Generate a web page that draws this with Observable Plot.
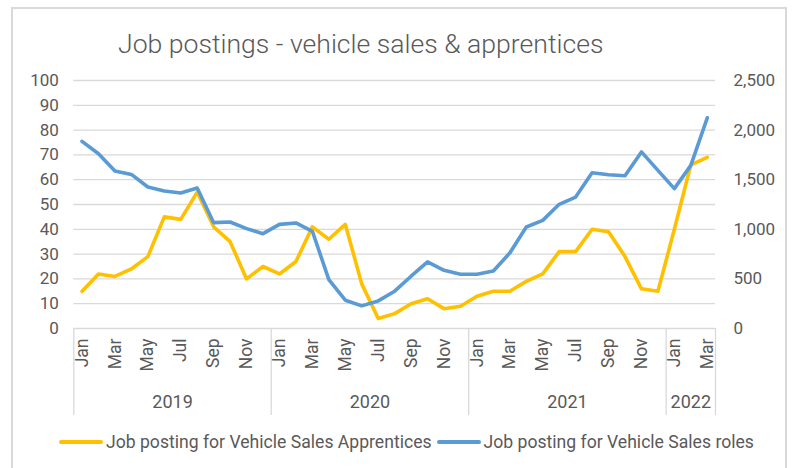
<!DOCTYPE html>
<html>
<head>
<meta charset="utf-8">
<script src="https://cdn.jsdelivr.net/npm/d3@7"></script>
<script src="https://cdn.jsdelivr.net/npm/@observablehq/plot@0.6"></script>
<style>
  html, body { margin: 0; padding: 0; background: #fff; }
  #wrap { position: relative; width: 794px; height: 468px; overflow: hidden; font-family: Roboto, "Open Sans", sans-serif; }
  #frame { position: absolute; left: 11px; top: 7px; width: 776px; height: 480px; border: 2px solid #d9d9d9; box-sizing: border-box; }
  #title { position: absolute; left: 118px; top: 28px; font-size: 26.6px; font-weight: 300; color: #595959; white-space: nowrap; }
  #chart { position: absolute; left: 0; top: 0; }
  #legend { position: absolute; left: 59px; top: 432px; display: flex; align-items: center; font-size: 17.6px; color: #595959; white-space: nowrap; }
  .sw { display: inline-block; width: 44px; height: 4px; margin-right: 3px; border-radius: 2px; }
  .item { display: flex; align-items: center; margin-right: 5px; }
</style>
</head>
<body>
<div id="wrap">
  <div id="frame"></div>
  <div id="title"></div>
  <div id="chart"></div>
  <div id="legend"></div>
</div>
<script>
const titleText = "Job postings - vehicle sales & apprentices";
const years = ["2019", "2020", "2021", "2022"];
const monthNames = ["Jan","Feb","Mar","Apr","May","Jun","Jul","Aug","Sep","Oct","Nov","Dec"];
const monthsPerYear = [12, 12, 12, 3];
const seriesNames = ["Job posting for Vehicle Sales Apprentices", "Job posting for Vehicle Sales roles"];
const seriesColors = ["#FFC000", "#5B9BD5"];
// Apprentices (left axis)
const apprentices = [15, 22, 21, 24, 29, 45, 44, 55, 41, 35, 20, 25,
                     22, 27, 41, 36, 42, 18, 4, 6, 10, 12, 8, 9,
                     13, 15, 15, 19, 22, 31, 31, 40, 39, 29, 16, 15,
                     40, 66, 69];
// Vehicle sales roles (right axis)
const roles = [1886, 1762, 1587, 1553, 1426, 1386, 1366, 1416, 1067, 1074, 1007, 956,
               1050, 1064, 980, 493, 285, 228, 278, 376, 527, 671, 587, 547,
               547, 580, 762, 1023, 1090, 1252, 1325, 1570, 1550, 1540, 1780, 1594,
               1410, 1644, 2124];
const leftTicks = [0, 10, 20, 30, 40, 50, 60, 70, 80, 90, 100];
const rightTicks = [0, 500, 1000, 1500, 2000, 2500];

const leftMax = leftTicks[leftTicks.length - 1];
const rightMax = rightTicks[rightTicks.length - 1];
const ratio = rightMax / leftMax;

// build rows
const rows = [];
years.forEach((yr, yi) => {
  for (let m = 0; m < monthsPerYear[yi]; m++) rows.push({month: monthNames[m], year: yr});
});
rows.forEach((r, i) => { r.i = i; r.app = apprentices[i]; r.roles = roles[i]; });

// year separators and centers
const seps = [];
const centers = [];
let start = 0;
years.forEach((yr, yi) => {
  seps.push(start - 0.5);
  centers.push({x: start + (monthsPerYear[yi] - 1) / 2, label: yr});
  start += monthsPerYear[yi];
});
seps.push(start - 0.5);

const grid = "#d9d9d9";
const txt = "#595959";

const plot = Plot.plot({
  width: 794,
  height: 468,
  marginTop: 80,
  marginBottom: 140,
  marginLeft: 73.3,
  marginRight: 79,
  style: {fontFamily: "Roboto, 'Open Sans', sans-serif", color: txt, background: "transparent"},
  x: {type: "linear", domain: [-0.5, start - 0.5]},
  y: {domain: [0, leftMax]},
  marks: [
    Plot.gridY({ticks: leftTicks, stroke: grid, strokeOpacity: 1, strokeWidth: 1.3}),
    Plot.axisY({ticks: leftTicks, tickSize: 0, tickPadding: 15, fontSize: 17, label: null, fill: txt}),
    Plot.axisY({anchor: "right", ticks: rightTicks.map(v => v / ratio), tickSize: 0, tickPadding: 18, fontSize: 17, label: null, fill: txt, textAnchor: "start",
                tickFormat: v => d3.format(",")(Math.round(v * ratio))}),
    Plot.axisX({ticks: seps, tickSize: 87, tickFormat: () => "", stroke: grid, strokeWidth: 1.3, label: null}),
    Plot.axisX({ticks: rows.filter(r => r.i % 2 === 0).map(r => r.i), tickSize: 0, tickPadding: 10, tickRotate: -90, fontSize: 17.5, label: null, fill: txt,
                tickFormat: i => rows[i].month}),
    Plot.axisX({ticks: centers.map(c => c.x), tickSize: 0, tickPadding: 67, fontSize: 18, label: null, fill: txt,
                tickFormat: x => centers.find(c => c.x === x).label}),
    Plot.line(rows, {x: "i", y: "app", stroke: seriesColors[0], strokeWidth: 3.6, strokeLinejoin: "round"}),
    Plot.line(rows, {x: "i", y: d => d.roles / ratio, stroke: seriesColors[1], strokeWidth: 3.6, strokeLinejoin: "round"})
  ]
});
document.getElementById("chart").appendChild(plot);
document.getElementById("title").textContent = titleText;
const legend = document.getElementById("legend");
seriesNames.forEach((n, k) => {
  const it = document.createElement("span");
  it.className = "item";
  const sw = document.createElement("span");
  sw.className = "sw";
  sw.style.background = seriesColors[k];
  it.appendChild(sw);
  it.appendChild(document.createTextNode(n));
  legend.appendChild(it);
});
</script>
</body>
</html>
